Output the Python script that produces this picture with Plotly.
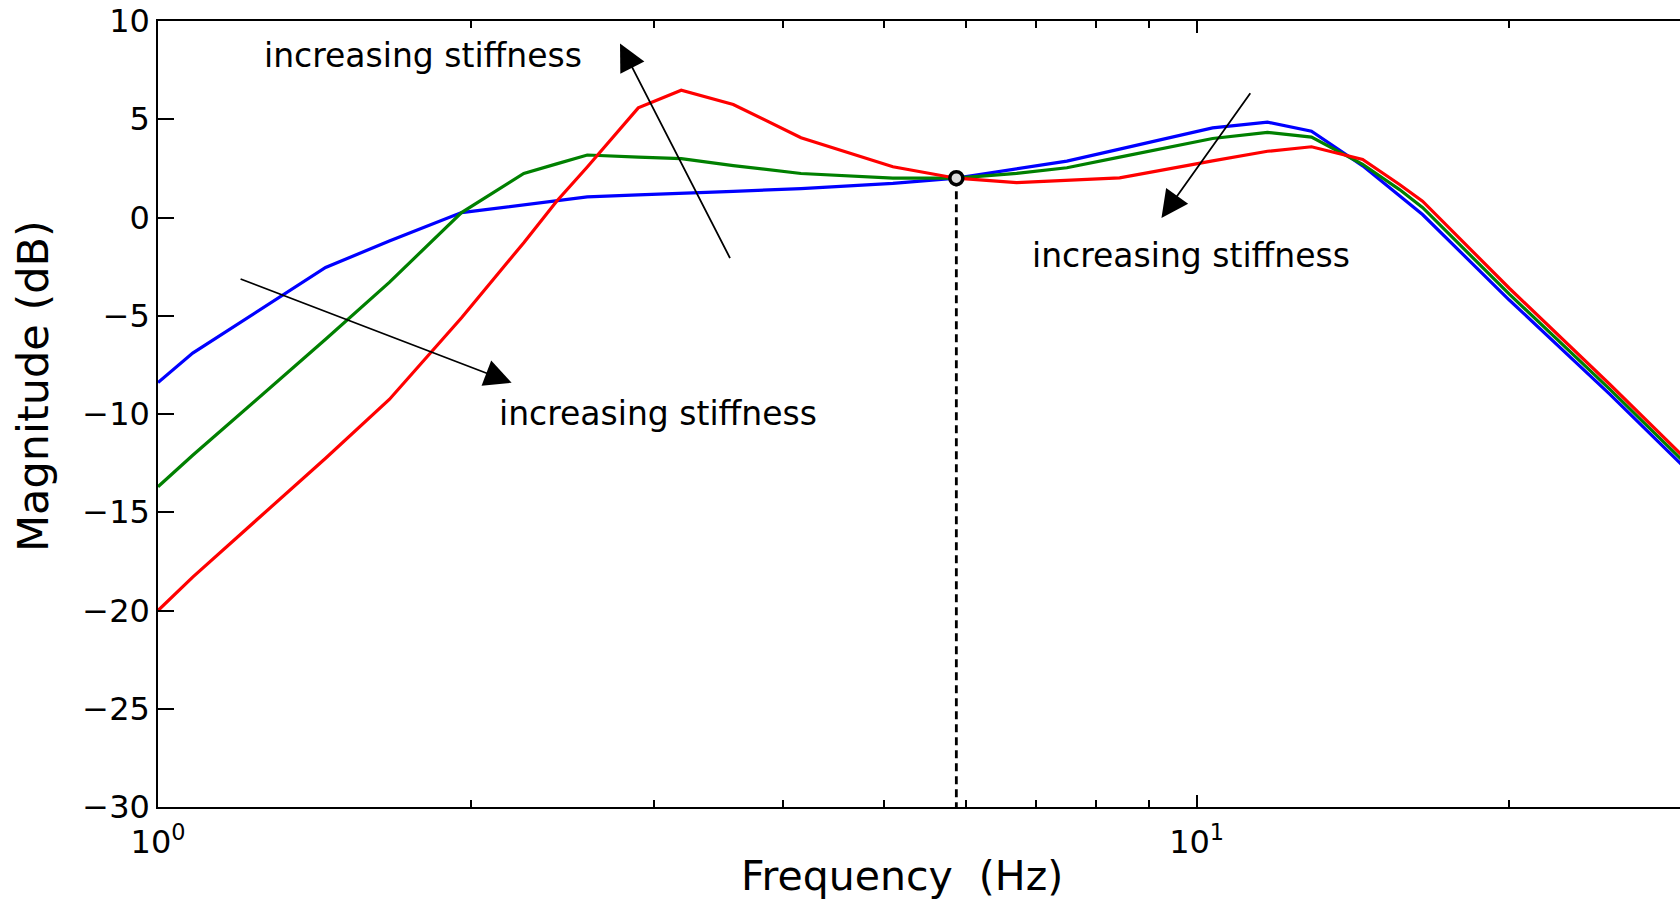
import numpy as np
import plotly.graph_objects as go

# ---- data ----
freq = [1.0, 1.08, 1.45, 1.67, 1.96, 2.25, 2.42, 2.59, 2.9, 3.19, 3.58, 4.16, 5.1, 5.87,
        6.71, 7.5, 8.43, 10.36, 11.7, 12.9, 14.45, 15.68, 16.5, 20.0, 25.0, 30.0]
mag_blue = [-8.4, -6.9, -2.54, -1.2, 0.25, 0.64, 0.87, 1.05, 1.15, 1.22, 1.33, 1.47, 1.74, 2.0,
            2.49, 2.87, 3.48, 4.56, 4.85, 4.39, 2.63, 1.08, 0.15, -4.2, -9.0, -13.1]
mag_green = [-13.7, -12.1, -6.2, -3.3, 0.25, 2.24, 2.73, 3.18, 3.07, 3.0, 2.64, 2.24, 2.0, 2.0,
             2.25, 2.53, 3.07, 4.02, 4.33, 4.09, 2.71, 1.42, 0.51, -3.9, -8.75, -12.85]
mag_red = [-20.0, -18.3, -12.25, -9.26, -5.1, -1.28, 0.83, 2.57, 5.58, 6.48, 5.75, 4.06, 2.58, 2.0,
           1.77, 1.89, 2.02, 2.88, 3.37, 3.6, 2.95, 1.68, 0.83, -3.6, -8.5, -12.6]
series_colors = ["#0000FF", "#008000", "#FF0000"]

cross_freq = 5.87
cross_mag = 2.0

y_ticks = [-30, -25, -20, -15, -10, -5, 0, 5, 10]
x_major = [1, 10]
x_major_text = ["10<sup>0</sup>", "10<sup>1</sup>"]
x_minor = [2, 3, 4, 5, 6, 7, 8, 9, 20]

label_text = "increasing stiffness"
# (text freq, text dB)
labels = [(1.80, 8.24), (9.88, -1.92), (3.03, -9.97)]
# arrows: (head freq, head dB, tail freq, tail dB)
arrows = [(2.785, 8.85, 3.56, -2.14),
          (2.19, -8.41, 1.197, -3.1),
          (9.25, -0.02, 11.29, 6.40)]

FONT = "DejaVu Sans"

fig = go.Figure()
for mags, col in zip([mag_blue, mag_green, mag_red], series_colors):
    fig.add_trace(go.Scatter(x=freq, y=mags, mode="lines",
                             line=dict(color=col, width=3.2), showlegend=False))

fig.add_trace(go.Scatter(x=[cross_freq, cross_freq], y=[cross_mag, -30], mode="lines",
                         line=dict(color="black", width=2.8, dash="8px,5px"), showlegend=False))
fig.add_trace(go.Scatter(x=[cross_freq], y=[cross_mag], mode="markers",
                         marker=dict(symbol="circle", size=13, color="#dddddd",
                                     line=dict(color="black", width=3.5)),
                         showlegend=False))

annotations = []
for fx, fy in labels:
    annotations.append(dict(x=np.log10(fx), y=fy, xref="x", yref="y", text=label_text,
                            showarrow=False, font=dict(family=FONT, size=33, color="black"),
                            xanchor="center", yanchor="middle"))
for hx, hy, tx, ty in arrows:
    annotations.append(dict(x=np.log10(hx), y=hy, ax=np.log10(tx), ay=ty,
                            xref="x", yref="y", axref="x", ayref="y", text="",
                            showarrow=True, arrowhead=2, arrowsize=3.0, arrowwidth=1.8,
                            arrowcolor="black"))

annotations.append(dict(x=0.489, y=-0.0875, xref="paper", yref="paper",
                        text="Frequency  (Hz)", showarrow=False,
                        font=dict(family=FONT, size=41, color="black"),
                        xanchor="center", yanchor="middle"))
annotations.append(dict(x=0, y=0.5356, xref="paper", yref="paper", xshift=-125,
                        text="Magnitude (dB)", showarrow=False, textangle=-90,
                        font=dict(family=FONT, size=43, color="black"),
                        xanchor="center", yanchor="middle"))

fig.update_layout(
    width=1680, height=900,
    margin=dict(l=158, r=0, t=21, b=93, autoexpand=False),
    paper_bgcolor="white", plot_bgcolor="white",
    annotations=annotations,
    font=dict(family=FONT, color="black"),
)
fig.update_xaxes(type="log", range=[0, np.log10(29.2)], showline=True, linecolor="black",
                 linewidth=1.5, mirror="ticks", ticks="inside", ticklen=12, tickwidth=1.5,
                 tickcolor="black", tickmode="array", tickvals=x_major, ticktext=x_major_text,
                 minor=dict(ticks="inside", ticklen=7, tickwidth=1.5, tickcolor="black",
                            tickmode="array", tickvals=x_minor, showgrid=False),
                 showgrid=False, zeroline=False, tickfont=dict(family=FONT, size=32),
                 ticklabelstandoff=6, automargin=False)
fig.update_yaxes(range=[-30, 10], showline=True, linecolor="black", linewidth=1.5,
                 ticks="inside", ticklen=16, tickwidth=1.5, tickcolor="black",
                 tickmode="array", tickvals=y_ticks, showgrid=False, zeroline=False,
                 tickfont=dict(family=FONT, size=32), ticklabelstandoff=0, automargin=False)

fig.write_html("out.html", config={"displayModeBar": False},
               post_script="document.body.style.margin='0px';"
                           "document.body.style.overflow='hidden';")
